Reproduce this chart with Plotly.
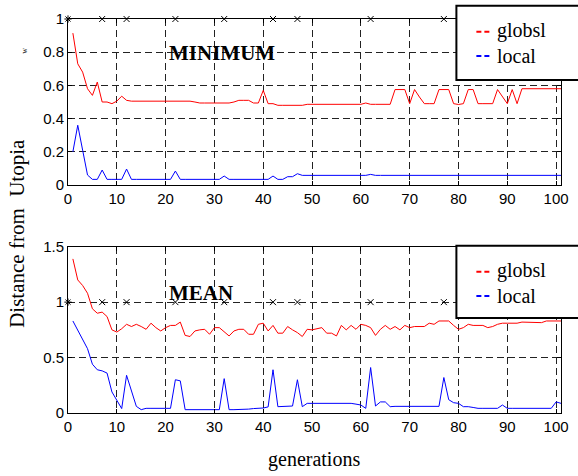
import plotly.graph_objects as go

generations = list(range(1, 102))

min_global = [
    0.915, 0.73, 0.68, 0.58, 0.54, 0.62, 0.50, 0.50, 0.49, 0.505,
    0.535, 0.51, 0.505, 0.505, 0.505, 0.505, 0.505, 0.505, 0.505, 0.505,
    0.505, 0.505, 0.505, 0.505, 0.505, 0.50, 0.494, 0.494, 0.494, 0.494,
    0.494, 0.494, 0.494, 0.50, 0.51, 0.51, 0.51, 0.494, 0.494, 0.57,
    0.49, 0.49, 0.48, 0.48, 0.48, 0.48, 0.48, 0.48, 0.486, 0.486,
    0.486, 0.486, 0.486, 0.486, 0.486, 0.486, 0.486, 0.486, 0.486, 0.486,
    0.494, 0.486, 0.486, 0.486, 0.486, 0.486, 0.575, 0.575, 0.575, 0.49,
    0.575, 0.53, 0.49, 0.49, 0.49, 0.575, 0.575, 0.575, 0.49, 0.485,
    0.49, 0.575, 0.575, 0.49, 0.49, 0.49, 0.49, 0.575, 0.53, 0.49,
    0.575, 0.49, 0.58, 0.58, 0.58, 0.58, 0.58, 0.58, 0.58, 0.58,
    0.58,
]

min_local = [
    0.20, 0.36, 0.21, 0.06, 0.034, 0.034, 0.09, 0.034, 0.034, 0.034,
    0.034, 0.096, 0.034, 0.034, 0.034, 0.034, 0.034, 0.034, 0.034, 0.034,
    0.034, 0.084, 0.034, 0.034, 0.034, 0.034, 0.034, 0.034, 0.034, 0.034,
    0.034, 0.054, 0.034, 0.034, 0.034, 0.034, 0.034, 0.034, 0.034, 0.034,
    0.034, 0.054, 0.034, 0.034, 0.05, 0.05, 0.068, 0.058, 0.058, 0.058,
    0.058, 0.058, 0.058, 0.058, 0.058, 0.058, 0.058, 0.058, 0.058, 0.058,
    0.058, 0.064, 0.058, 0.058, 0.058, 0.058, 0.058, 0.058, 0.058, 0.058,
    0.058, 0.058, 0.058, 0.058, 0.058, 0.058, 0.062, 0.058, 0.058, 0.058,
    0.058, 0.058, 0.058, 0.058, 0.058, 0.058, 0.058, 0.058, 0.058, 0.058,
    0.058, 0.058, 0.058, 0.058, 0.058, 0.058, 0.058, 0.058, 0.058, 0.058,
    0.058,
]

mean_global = [
    1.39, 1.20, 1.15, 1.08, 0.94, 0.90, 0.91, 0.87, 0.75, 0.73,
    0.76, 0.80, 0.78, 0.80, 0.78, 0.755, 0.81, 0.77, 0.74, 0.77,
    0.79, 0.79, 0.82, 0.70, 0.69, 0.74, 0.75, 0.755, 0.71, 0.77,
    0.77, 0.73, 0.695, 0.74, 0.755, 0.755, 0.71, 0.71, 0.80, 0.81,
    0.74, 0.79, 0.72, 0.72, 0.78, 0.75, 0.725, 0.69, 0.755, 0.75,
    0.76, 0.77, 0.72, 0.72, 0.695, 0.79, 0.75, 0.79, 0.755, 0.80,
    0.79, 0.77, 0.70, 0.755, 0.79, 0.755, 0.78, 0.75, 0.79, 0.77,
    0.78, 0.78, 0.78, 0.81, 0.80, 0.83, 0.83, 0.83, 0.79, 0.755,
    0.77, 0.80, 0.79, 0.79, 0.79, 0.77, 0.78, 0.80, 0.81, 0.81,
    0.81, 0.81, 0.82, 0.82, 0.815, 0.815, 0.815, 0.83, 0.83, 0.83,
    0.83,
]

mean_local = [
    0.83, 0.75, 0.67, 0.58, 0.44, 0.39, 0.38, 0.36, 0.19, 0.12,
    0.04, 0.34, 0.21, 0.06, 0.03, 0.042, 0.042, 0.042, 0.042, 0.042,
    0.042, 0.30, 0.29, 0.03, 0.03, 0.03, 0.03, 0.03, 0.03, 0.03,
    0.03, 0.31, 0.03, 0.03, 0.03, 0.03, 0.035, 0.04, 0.042, 0.045,
    0.055, 0.39, 0.057, 0.06, 0.062, 0.063, 0.30, 0.057, 0.087, 0.087,
    0.087, 0.087, 0.087, 0.087, 0.087, 0.087, 0.087, 0.087, 0.08, 0.072,
    0.042, 0.41, 0.063, 0.10, 0.10, 0.057, 0.06, 0.06, 0.06, 0.06,
    0.06, 0.06, 0.06, 0.06, 0.06, 0.06, 0.32, 0.12, 0.093, 0.087,
    0.057, 0.057, 0.05, 0.042, 0.042, 0.042, 0.042, 0.042, 0.072, 0.042,
    0.042, 0.042, 0.042, 0.042, 0.042, 0.042, 0.042, 0.042, 0.042, 0.10,
    0.087,
]

marker_x = [0, 7, 12, 22, 32, 42, 47, 62, 77]
marker_y = [1, 1, 1, 1, 1, 1, 1, 1, 1]
marker_sym = ["asterisk-open"] + ["x-thin-open"] * 8

x_ticks = [0, 10, 20, 30, 40, 50, 60, 70, 80, 90, 100]
top_y_ticks = [0, 0.2, 0.4, 0.6, 0.8, 1]
top_y_labels = ["0", "0.2", "0.4", "0.6", "0.8", "1"]
bot_y_ticks = [0, 0.5, 1, 1.5]
bot_y_labels = ["0", "0.5", "1", "1.5"]

series_names = ["globsl", "local"]
series_colors = ["#ff0000", "#0000ff"]

W, H = 578, 476
ML, MR, MT, MB = 68, 9, 19, 63
PW = W - ML - MR
PH = H - MT - MB


def px(x):
    return (x - ML) / PW


def py(y):
    return (H - MB - y) / PH


SERIF = "Liberation Serif, Times New Roman, serif"
SANS = "Liberation Sans, Arial, sans-serif"

fig = go.Figure()

# top subplot (MINIMUM)
fig.add_trace(go.Scatter(x=generations, y=min_global, mode="lines", name=series_names[0],
                         line=dict(color=series_colors[0], width=1), xaxis="x", yaxis="y"))
fig.add_trace(go.Scatter(x=generations, y=min_local, mode="lines", name=series_names[1],
                         line=dict(color=series_colors[1], width=1), xaxis="x", yaxis="y"))
fig.add_trace(go.Scatter(x=marker_x, y=marker_y, mode="markers", cliponaxis=False,
                         marker=dict(symbol=marker_sym, size=6, color="black",
                                     line=dict(color="black", width=1)),
                         xaxis="x", yaxis="y", showlegend=False))

# bottom subplot (MEAN)
fig.add_trace(go.Scatter(x=generations, y=mean_global, mode="lines", name=series_names[0],
                         line=dict(color=series_colors[0], width=1), xaxis="x2", yaxis="y2"))
fig.add_trace(go.Scatter(x=generations, y=mean_local, mode="lines", name=series_names[1],
                         line=dict(color=series_colors[1], width=1), xaxis="x2", yaxis="y2"))
fig.add_trace(go.Scatter(x=marker_x, y=marker_y, mode="markers", cliponaxis=False,
                         marker=dict(symbol=marker_sym, size=6, color="black",
                                     line=dict(color="black", width=1)),
                         xaxis="x2", yaxis="y2", showlegend=False))

axis_common = dict(
    showline=True, linecolor="black", linewidth=1, mirror="ticks",
    ticks="inside", ticklen=4, tickcolor="black",
    showgrid=True, gridcolor="#222222", gridwidth=1, griddash="7px,4px",
    zeroline=False, tickfont=dict(family=SANS, size=15, color="black"),
)

top_dom = [py(185), py(19)]
bot_dom = [0, py(246.7)]

fig.update_layout(
    width=W, height=H,
    margin=dict(l=ML, r=MR, t=MT, b=MB),
    paper_bgcolor="white", plot_bgcolor="white",
    showlegend=False,
    xaxis=dict(range=[0, 101], tickvals=x_ticks, anchor="y", domain=[0, 1], **axis_common),
    yaxis=dict(range=[0, 1], tickvals=top_y_ticks, ticktext=top_y_labels, anchor="x",
               domain=top_dom, **axis_common),
    xaxis2=dict(range=[0, 101], tickvals=x_ticks, anchor="y2", domain=[0, 1], **axis_common),
    yaxis2=dict(range=[0, 1.5], tickvals=bot_y_ticks, ticktext=bot_y_labels, anchor="x2",
                domain=bot_dom, **axis_common),
)

shapes = []
annotations = []

# manual legends (one per subplot)
legend_boxes = [(5.7, 80, 31.7, 56, 30, 56), (245.7, 318, 271.7, 296, 270, 296)]
for (top, bottom, ly1, ly2, ty1, ty2) in legend_boxes:
    shapes.append(dict(type="rect", xref="paper", yref="paper",
                       x0=px(462.7), x1=px(590), y0=py(bottom), y1=py(top),
                       line=dict(color="black", width=2), fillcolor="white", layer="above"))
    for ly, ty, name, col in [(ly1, ty1, series_names[0], series_colors[0]),
                              (ly2, ty2, series_names[1], series_colors[1])]:
        shapes.append(dict(type="line", xref="paper", yref="paper",
                           x0=px(483), x1=px(497), y0=py(ly), y1=py(ly),
                           line=dict(color=col, width=2, dash="5px,3px"), layer="above"))
        annotations.append(dict(text=name, xref="paper", yref="paper", x=px(502), y=py(ty),
                                xanchor="left", yanchor="middle", showarrow=False,
                                font=dict(family=SERIF, size=20, color="black")))

annotations.append(dict(text="<b>MINIMUM</b>", xref="paper", yref="paper", x=px(169), y=py(53),
                        xanchor="left", yanchor="middle", showarrow=False,
                        font=dict(family=SERIF, size=21, color="black")))
annotations.append(dict(text="<b>MEAN</b>", xref="paper", yref="paper", x=px(169), y=py(293),
                        xanchor="left", yanchor="middle", showarrow=False,
                        font=dict(family=SERIF, size=21, color="black")))
annotations.append(dict(text="generations", xref="paper", yref="paper", x=px(318), y=py(459),
                        xanchor="center", yanchor="middle", showarrow=False,
                        font=dict(family=SERIF, size=20, color="black")))
annotations.append(dict(text="Distance from", xref="paper", yref="paper", x=px(16), y=py(268),
                        xanchor="center", yanchor="middle", showarrow=False, textangle=-90,
                        font=dict(family=SERIF, size=21, color="black")))
annotations.append(dict(text="Utopia", xref="paper", yref="paper", x=px(16), y=py(168),
                        xanchor="center", yanchor="middle", showarrow=False, textangle=-90,
                        font=dict(family=SERIF, size=21, color="black")))
annotations.append(dict(text="w", xref="paper", yref="paper", x=px(23), y=py(51),
                        xanchor="center", yanchor="middle", showarrow=False, textangle=-90,
                        font=dict(family=SERIF, size=8, color="black")))

fig.update_layout(shapes=shapes, annotations=annotations)

fig.write_html("out.html")
